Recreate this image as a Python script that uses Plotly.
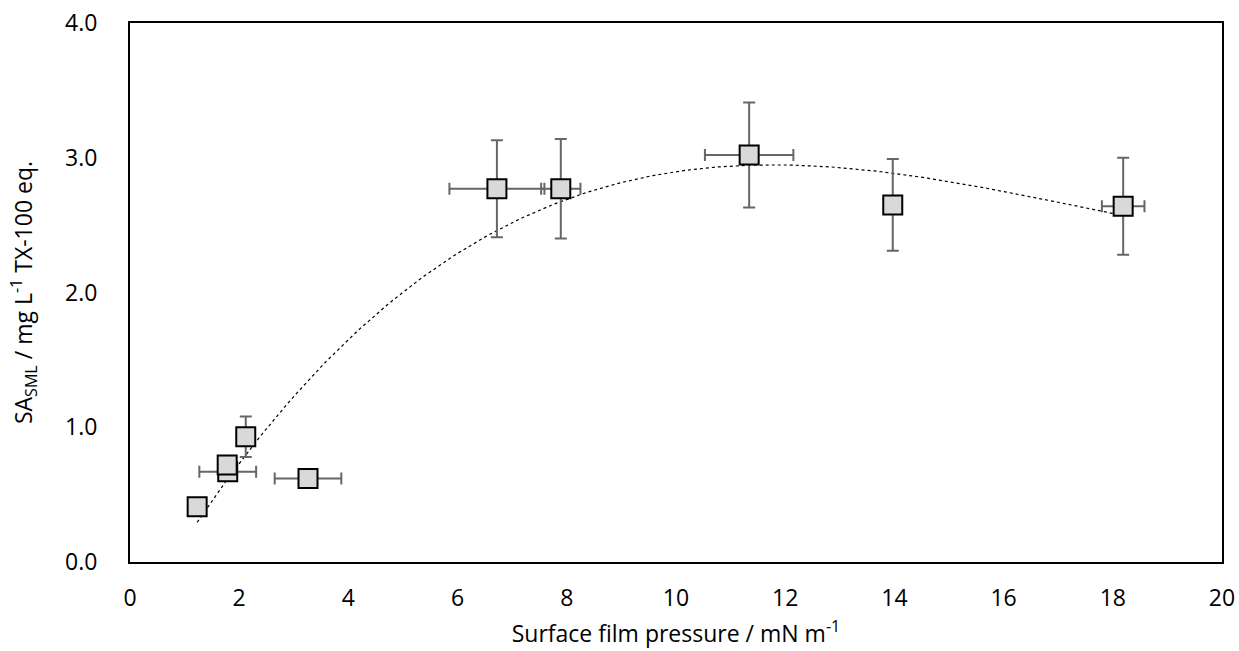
import numpy as np
import plotly.graph_objects as go

pressure = [1.23, 1.79, 1.78, 2.12, 3.26, 6.72, 7.89, 11.34, 13.97, 18.19]
sa_sml = [0.41, 0.67, 0.72, 0.93, 0.62, 2.77, 2.77, 3.02, 2.65, 2.64]
pressure_err = [0.0, 0.52, 0.0, 0.0, 0.61, 0.87, 0.36, 0.81, 0.0, 0.39]
sa_err = [0.0, 0.0, 0.0, 0.15, 0.0, 0.36, 0.37, 0.39, 0.34, 0.36]

x_ticks = [0, 2, 4, 6, 8, 10, 12, 14, 16, 18, 20]
y_ticks = [0.0, 1.0, 2.0, 3.0, 4.0]

# polynomial trendline (order 3) fitted to the data, as a spreadsheet would
coef = np.polyfit(pressure, sa_sml, 3)
tx = np.linspace(min(pressure), max(pressure), 200)
ty = np.polyval(coef, tx)

font = "Open Sans"
fs = 23

fig = go.Figure()
fig.add_trace(go.Scatter(
    x=tx, y=ty, mode="lines",
    line=dict(color="black", width=1.2, dash="dot"),
    hoverinfo="skip", showlegend=False,
))
fig.add_trace(go.Scatter(
    x=pressure, y=sa_sml, mode="markers",
    marker=dict(symbol="square", size=19, color="#d9d9d9",
                line=dict(color="black", width=2)),
    error_x=dict(type="data", array=pressure_err, visible=True,
                 color="#666666", thickness=2, width=6),
    error_y=dict(type="data", array=sa_err, visible=True,
                 color="#666666", thickness=2, width=6),
    showlegend=False,
))

fig.update_layout(
    width=1239, height=651,
    margin=dict(l=130, r=17, t=23, b=89),
    paper_bgcolor="white", plot_bgcolor="white",
    font=dict(family=font, size=fs, color="black"),
    xaxis=dict(
        range=[0, 20], tickvals=x_ticks, ticktext=[str(v) for v in x_ticks],
        tickfont=dict(family=font, size=fs), automargin=False,
        showgrid=False, zeroline=False, showline=True, mirror=True,
        linecolor="black", linewidth=2, ticks="outside", ticklen=14,
        tickcolor="rgba(0,0,0,0)",
        title=dict(text="Surface film pressure / mN m<sup>-1</sup>",
                   font=dict(family=font, size=fs), standoff=14),
    ),
    yaxis=dict(
        range=[0, 4], tickvals=y_ticks, ticktext=[f"{v:.1f}" for v in y_ticks],
        tickfont=dict(family=font, size=fs), automargin=False,
        showgrid=False, zeroline=False, showline=True, mirror=True,
        linecolor="black", linewidth=2, ticks="outside", ticklen=26,
        tickcolor="rgba(0,0,0,0)",
        title=dict(text="SA<sub>SML</sub> / mg L<sup>-1</sup> TX-100 eq.",
                   font=dict(family=font, size=fs), standoff=26),
    ),
)

fig.write_html("out.html")
